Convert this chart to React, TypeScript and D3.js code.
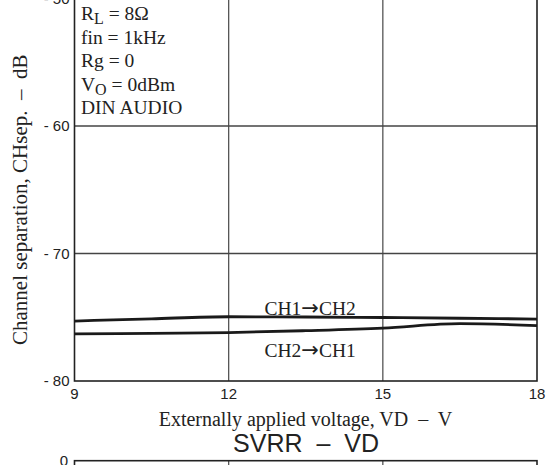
import React from "react";
import * as d3 from "d3";

const voltages = [9, 10.5, 12, 13.5, 15, 16.5, 18];
const ch1to2 = [-75.3, -75.12, -74.96, -74.98, -75.02, -75.08, -75.14];
const ch2to1 = [-76.31, -76.26, -76.2, -76.05, -75.85, -75.5, -75.66];
const xTicks = [9, 12, 15, 18];
const yTicks = [-50, -60, -70, -80];
const seriesLabels = [
  { from: "CH1", to: "CH2" },
  { from: "CH2", to: "CH1" },
];
const conditions = [
  { main: "R", sub: "L", rest: " = 8Ω" },
  { main: "fin = 1kHz", sub: "", rest: "" },
  { main: "Rg = 0", sub: "", rest: "" },
  { main: "V", sub: "O", rest: " = 0dBm" },
  { main: "DIN AUDIO", sub: "", rest: "" },
];

const W = 547;
const H = 465;
const serif = "'Liberation Serif', 'Times New Roman', serif";
const sans = "'Liberation Sans', Arial, sans-serif";

export default function App() {
  const x = d3.scaleLinear().domain([9, 18]).range([74.5, 537]);
  const y = d3.scaleLinear().domain([-80, -50]).range([381, -1.5]);
  const line = d3
    .line<number>()
    .x((_, i) => x(voltages[i]))
    .y((d) => y(d))
    .curve(d3.curveMonotoneX);

  const left = x(9);
  const right = x(18);
  const top = y(-50);
  const bottom = y(-80);
  const nextTop = 460.7;
  const labelY = [315, 357];

  return (
    <div style={{ position: "fixed", left: 0, top: 0, width: W, height: H, background: "#fff" }}>
      <svg width={W} height={H} style={{ display: "block" }}>
        <rect x={0} y={0} width={W} height={H} fill="#fff" />
        {/* grid */}
        {xTicks.slice(1, -1).map((t) => (
          <line key={"gx" + t} x1={x(t)} x2={x(t)} y1={top} y2={bottom} stroke="#555" strokeWidth={1.3} />
        ))}
        {yTicks.slice(1, -1).map((t) => (
          <line key={"gy" + t} x1={left} x2={right} y1={y(t)} y2={y(t)} stroke="#444" strokeWidth={1.4} />
        ))}
        <rect x={left} y={top} width={right - left} height={bottom - top} fill="none" stroke="#222" strokeWidth={1.6} />
        {/* y tick labels */}
        {yTicks.map((t) => (
          <text key={"yl" + t} x={69.5} y={y(t)} dy="0.36em" textAnchor="end" fontFamily={sans} fontSize={15} fill="#222" style={{ whiteSpace: "pre" }}>
            {"- " + Math.abs(t)}
          </text>
        ))}
        {/* x tick labels */}
        {xTicks.map((t) => (
          <text key={"xl" + t} x={x(t)} y={399} textAnchor="middle" fontFamily={sans} fontSize={15} fill="#222">
            {t}
          </text>
        ))}
        {/* curves */}
        <path d={line(ch1to2) || ""} fill="none" stroke="#1a1a1a" strokeWidth={2.8} />
        <path d={line(ch2to1) || ""} fill="none" stroke="#1a1a1a" strokeWidth={2.8} />
        {seriesLabels.map((s, i) => (
          <text key={"sl" + i} x={264.5} y={labelY[i]} fontFamily={serif} fontSize={19.5} fill="#222">
            {s.from}
            <tspan fontFamily="'DejaVu Sans', sans-serif" fontSize={21}>→</tspan>
            {s.to}
          </text>
        ))}
        {/* conditions */}
        {conditions.map((c, i) => (
          <text key={"c" + i} x={81} y={20 + i * 23.5} fontFamily={serif} fontSize={19.5} fill="#222">
            {c.main}
            {c.sub ? (
              <tspan fontSize={16} dy={4}>{c.sub}</tspan>
            ) : null}
            {c.rest ? <tspan dy={c.sub ? -4 : 0}>{c.rest}</tspan> : null}
          </text>
        ))}
        {/* axis titles */}
        <text
          transform={`translate(27, ${(top + bottom) / 2 + 10}) rotate(-90)`}
          textAnchor="middle"
          fontFamily={serif}
          fontSize={21}
          fill="#222"
          style={{ whiteSpace: "pre" }}
        >
          {"Channel separation, CHsep.  –  dB"}
        </text>
        <text x={305.5} y={426} textAnchor="middle" fontFamily={serif} fontSize={20} fill="#222" style={{ whiteSpace: "pre" }}>
          {"Externally applied voltage, VD  –  V"}
        </text>
        {/* next chart header */}
        <text x={306} y={452} textAnchor="middle" fontFamily={sans} fontSize={25} fill="#222" style={{ whiteSpace: "pre" }}>
          {"SVRR  –  VD"}
        </text>
        <text x={68} y={nextTop} dy="0.36em" textAnchor="end" fontFamily={sans} fontSize={15} fill="#222">0</text>
        {xTicks.slice(1, -1).map((t) => (
          <line key={"ngx" + t} x1={x(t)} x2={x(t)} y1={nextTop} y2={H + 2} stroke="#555" strokeWidth={1.3} />
        ))}
        <rect x={left} y={nextTop} width={right - left} height={40} fill="none" stroke="#222" strokeWidth={1.6} />
      </svg>
    </div>
  );
}
